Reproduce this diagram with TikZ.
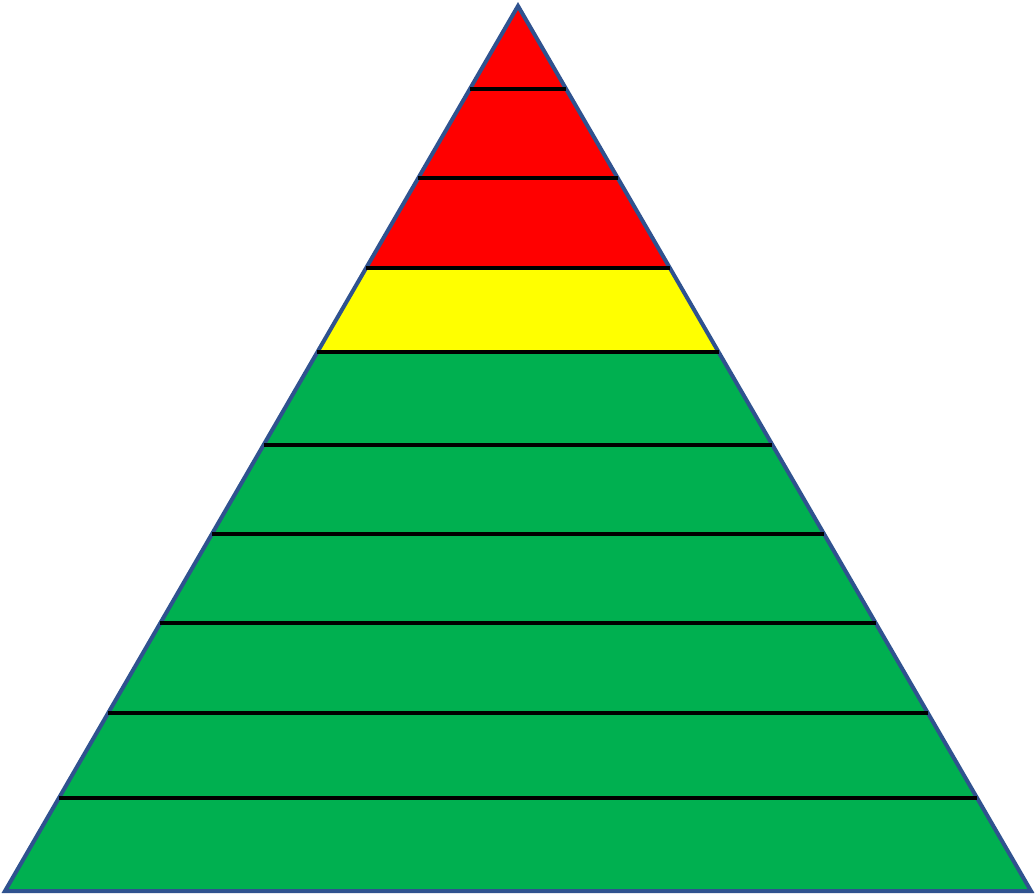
\documentclass[tikz,border=0pt]{standalone}
\usepackage{xcolor}
\usetikzlibrary{calc}
\definecolor{pyrred}{RGB}{255,0,0}
\definecolor{pyryellow}{RGB}{255,255,0}
\definecolor{pyrgreen}{RGB}{0,176,80}
\definecolor{pyrblue}{RGB}{47,82,143}

\begin{document}
\begin{tikzpicture}[x=1pt, y=-1pt]
\useasboundingbox (0,0) rectangle (1036,894);
\coordinate (apex) at (518,6);
\coordinate (bl) at (5,891);
\coordinate (br) at (1031,891);
% bands
\fill[pyrgreen] (apex) -- (bl) -- (br) -- cycle;
\begin{scope}
\clip (apex) -- (bl) -- (br) -- cycle;
\fill[pyrred] (0,0) rectangle (1036,268);
\fill[pyryellow] (0,268) rectangle (1036,352);
\end{scope}
\draw[pyrblue, line width=4pt, line join=miter] (apex) -- (bl) -- (br) -- cycle;
% level lines
\foreach \y in {89,178,268,352,445,534,623,713,798}
    \draw[black, line width=4pt] ($(apex)!{(\y-6)/885}!(bl)$) -- ($(apex)!{(\y-6)/885}!(br)$);
\end{tikzpicture}
\end{document}
